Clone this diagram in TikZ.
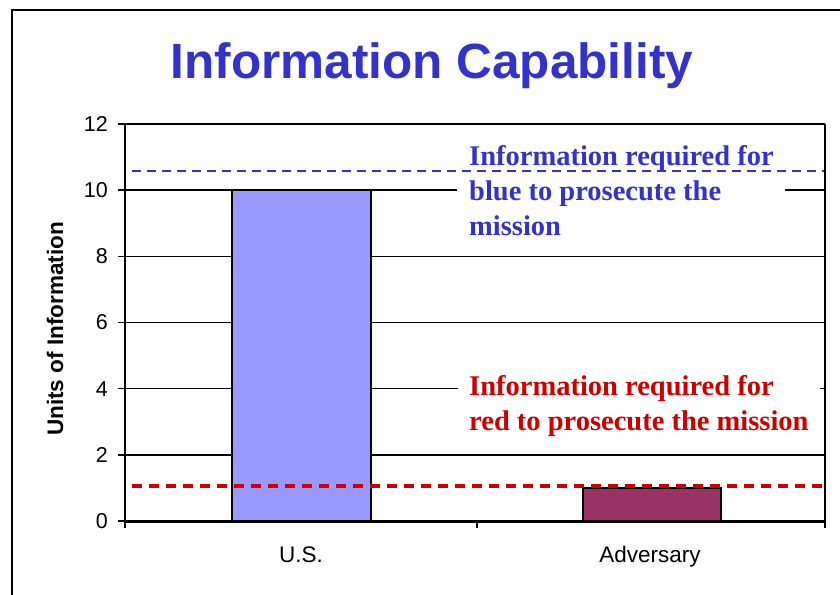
\documentclass[tikz,border=0pt]{standalone}
\usepackage{fontspec}
\setmainfont{Liberation Serif}
\newfontfamily\arialfont{Liberation Sans}
\definecolor{titleblue}{HTML}{3333CC}
\definecolor{barblue}{HTML}{9999FF}
\definecolor{barred}{HTML}{993366}
\definecolor{linered}{HTML}{CC0000}
\tikzset{
  frameline/.style={line width=2pt},
  gridline/.style={line width=1.6pt},
  axisline/.style={line width=1.9pt},
  baseaxis/.style={line width=3pt},
  tickline/.style={line width=1.6pt},
  titlestyle/.style={font=\arialfont\bfseries\fontsize{49.5}{56}\selectfont, text=titleblue, anchor=base, inner sep=0pt},
  axistitle/.style={font=\arialfont\bfseries\fontsize{22.5}{26}\selectfont, rotate=90, anchor=base, inner sep=0pt},
  ticklabel/.style={font=\arialfont\fontsize{21.5}{24}\selectfont, anchor=east, inner sep=0pt},
  catlabel/.style={font=\arialfont\fontsize{22.5}{26}\selectfont, anchor=base, inner sep=0pt},
  barbox/.style={draw=black, line width=2pt},
  notebox/.style={fill=white, inner sep=0pt},
  noteline/.style={font=\bfseries\fontsize{28.5}{34}\selectfont, anchor=base west, inner sep=0pt},
  bluedash/.style={titleblue, line width=2pt, dash pattern=on 8.5pt off 6.5pt},
  reddash/.style={linered, line width=3.2pt, dash pattern=on 10pt off 7pt},
}
\begin{document}
\begin{tikzpicture}[x=1pt,y=-1pt]
\useasboundingbox (0,0) rectangle (840,594);
% outer frame
\draw[frameline] (12,600) -- (12,10) -- (845,10);
% title
\node[titlestyle] (title) at (432,78.3) {Information Capability};
% axis title
\node[axistitle] (ytitle) at (63,329) {Units of Information};
% gridlines, ticks, tick labels
\foreach \v in {0,2,...,12} {
  \pgfmathsetmacro\yy{521-33.083*\v}
  \draw[gridline] (125,\yy) -- (825,\yy);
  \draw[tickline] (118,\yy) -- (125,\yy);
  \node[ticklabel] (t\v) at (108,\yy) {\v};
}
% bars
\filldraw[barbox, fill=barblue] (231.7,190.2) rectangle (370.7,521);
\filldraw[barbox, fill=barred] (583.3,487.9) rectangle (721,521);
% note boxes
\node[notebox, minimum width=328pt, minimum height=111pt] (bluebox) at (621,192.5) {};
\node[notebox, minimum width=362pt, minimum height=80pt] (redbox) at (639,402) {};
% dashed requirement lines
\coordinate (bl) at (132,170.8);
\coordinate (br) at (825,170.8);
\coordinate (rl) at (132,486);
\coordinate (rr) at (825,486);
\draw[bluedash] (bl) -- (br);
\draw[reddash] (rl) -- (rr);
% note texts
\node[noteline, text=titleblue] (blue1) at (469,165) {Information required for};
\node[noteline, text=titleblue] (blue2) at (469,200) {blue to prosecute the};
\node[noteline, text=titleblue] (blue3) at (469,235) {mission};
\node[noteline, text=linered] (red1) at (469,395) {Information required for};
\node[noteline, text=linered] (red2) at (469,430) {red to prosecute the mission};
% axes
\coordinate (o) at (125,521);
\coordinate (top) at (125,124);
\coordinate (rb) at (825,521);
\coordinate (rt) at (825,124);
\draw[axisline] (top) -- (o);
\draw[axisline] (rt) -- (rb);
\draw[baseaxis] (o) -- (rb);
\foreach \xx in {125,476.7,825} {
  \draw[tickline] (\xx,521) -- (\xx,528);
}
% category labels
\node[catlabel] (us) at (301,562) {U.S.};
\node[catlabel] (adv) at (650,562) {Adversary};
\end{tikzpicture}
\end{document}
